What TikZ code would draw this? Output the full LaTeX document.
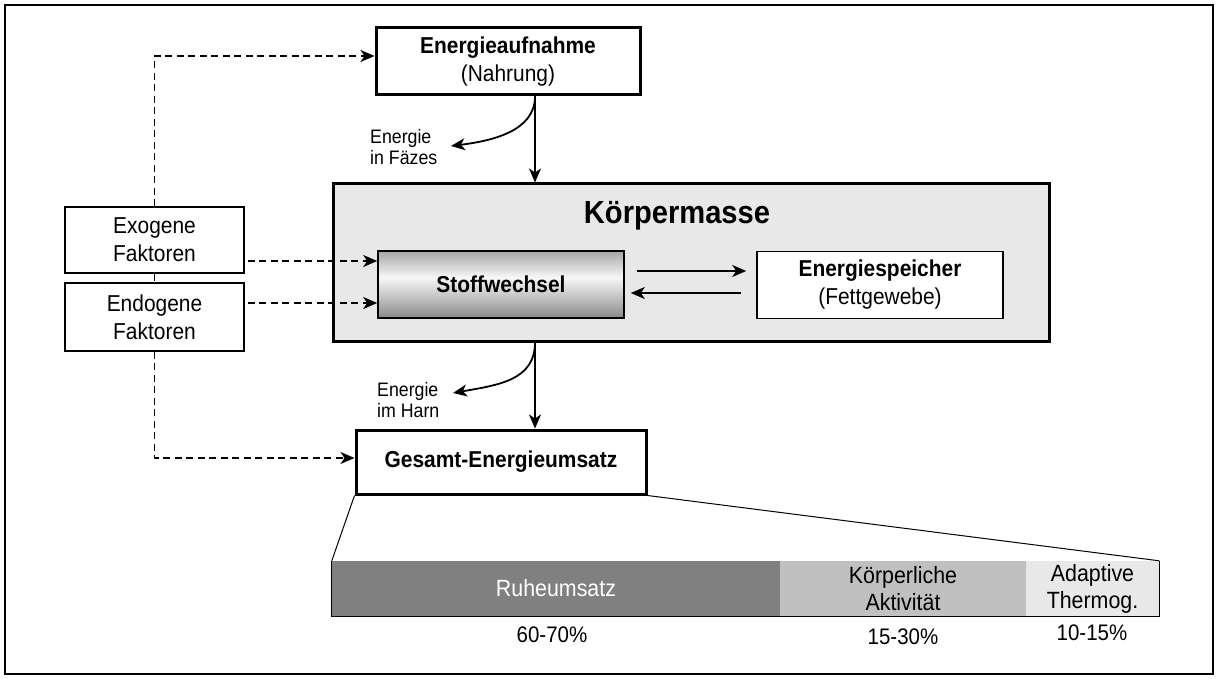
\documentclass[tikz,border=0pt]{standalone}
\usepackage{fontspec}
\setmainfont{Liberation Sans}[FakeStretch=0.91]
\usetikzlibrary{arrows.meta,shadows}

\definecolor{kmgrey}{HTML}{E8E8E8}
\definecolor{actgrey}{HTML}{C0C0C0}
\definecolor{restgrey}{HTML}{808080}

\newcommand\boxfont{\fontsize{23}{28}\selectfont}
\newcommand\labfont{\fontsize{19.5}{21}\selectfont}
\newcommand\titlefont{\fontsize{32}{34}\selectfont\bfseries}

\begin{document}
\begin{tikzpicture}[x=1pt,y=-1pt,
  every node/.style={inner sep=0pt, align=center, font=\boxfont},
  thickbox/.style={draw, line width=3pt, fill=white},
  thinbox/.style={draw, line width=1.6pt, fill=white},
  arr/.style={line width=1.8pt, -{Stealth[length=14pt,width=12pt,inset=4pt]}},
  dline/.style={line width=1.6pt, dash pattern=on 7pt off 4.5pt},
  darr/.style={dline, -{Stealth[length=14pt,width=12pt,inset=4pt]}},
  seg/.style={minimum height=55pt, font=\fontsize{23.5}{27}\selectfont}]
  \useasboundingbox (0,0) rectangle (1218,679);
  \draw[line width=1.5pt] (5,5) rectangle (1213,674);

  % Koerpermasse with its two inner boxes
  \node[draw, line width=3pt, fill=kmgrey, minimum width=716pt, minimum height=157pt,
    drop shadow={shadow xshift=2pt, shadow yshift=-2pt, fill=black!35, opacity=1}] (km) at (691,262.5) {};
  \node[font=\titlefont] (kmtitle) at (677,216) {Körpermasse};
  \foreach \i in {0,...,66} {
    \pgfmathsetmacro\c{\i/66<0.4 ? 35-80*\i/66 : 3+70*(\i/66-0.4)}
    \fill[black!\c] (378,251+\i) rectangle (624,252.2+\i);
  }
  \node[draw, line width=1.6pt, minimum width=246pt, minimum height=67pt] (stoff) at (501,284.5)
    {\bfseries Stoffwechsel};
  \node[thinbox, minimum width=246pt, minimum height=67pt] (speicher) at (880,285)
    {\bfseries Energiespeicher\\(Fettgewebe)};

  \node[thickbox, minimum width=264pt, minimum height=67pt] (ein) at (508,61.5)
    {\bfseries Energieaufnahme\\(Nahrung)};
  \node[thickbox, minimum width=290pt, minimum height=64pt] (ges) at (501,462)
    {\bfseries Gesamt-Energieumsatz};
  \node[thinbox, minimum width=179pt, minimum height=66pt] (exo) at (154.5,240) {Exogene\\Faktoren};
  \node[thinbox, minimum width=179pt, minimum height=68pt] (endo) at (154.5,317) {Endogene\\Faktoren};

  % flows of energy
  \coordinate (ax) at (535,0);
  \coordinate (feces) at (451,146);
  \coordinate (urine) at (453,393);
  \node[font=\labfont, align=left, anchor=west] (lab1) at (370,147) {Energie\\in Fäzes};
  \node[font=\labfont, align=left, anchor=west] (lab2) at (377,400) {Energie\\im Harn};
  \draw[arr] (ein.south -| ax) -- (km.north -| ax);
  \draw[arr] (km.south -| ax) -- (ges.north -| ax);
  \draw[arr] (ein.south -| ax) .. controls +(0,35) and +(40,-5) .. (feces);
  \draw[arr] (km.south -| ax) .. controls +(0,38) and +(45,-8) .. (urine);
  \draw[arr] ([shift={(12,-13.5)}]stoff.east) -- ([shift={(-10,-14)}]speicher.west);
  \draw[arr] ([shift={(-15,8)}]speicher.west) -- ([shift={(6,8.5)}]stoff.east);

  % factors
  \coordinate (inexo) at ([yshift=23.5pt]stoff.west);
  \coordinate (inendo) at ([yshift=-18.5pt]stoff.west);
  \draw[darr] (exo.north) |- ([yshift=5.5pt]ein.west);
  \draw[dline] (exo.south) -- (endo.north);
  \draw[darr] (endo.south) |- ([yshift=4pt]ges.west);
  \draw[darr] ([xshift=3pt]exo.east |- inexo) -- (inexo);
  \draw[darr] ([xshift=3pt]endo.east |- inendo) -- (inendo);

  % split of the total
  \node[seg, fill=restgrey, text=white, minimum width=448pt] (rest) at (556,588.5) {Ruheumsatz};
  \node[seg, fill=actgrey, minimum width=246pt] (act) at (903,588.5) {Körperliche\\Aktivität};
  \node[seg, fill=kmgrey, minimum width=133pt] (thermo) at (1092.5,588.5) {Adaptive\\Thermog.};
  \draw[line width=1pt] (rest.north west) -- (rest.south west) -- (thermo.south east) -- (thermo.north east);
  \draw[line width=1pt] (ges.south west) -- (rest.north west);
  \draw[line width=1pt] (ges.south east) -- (thermo.north east);
  \node[font=\fontsize{22.5}{27}\selectfont] (p1) at (552,635) {60-70\%};
  \node[font=\fontsize{22.5}{27}\selectfont] (p2) at (903,637) {15-30\%};
  \node[font=\fontsize{22.5}{27}\selectfont] (p3) at (1092,633) {10-15\%};
\end{tikzpicture}
\end{document}
